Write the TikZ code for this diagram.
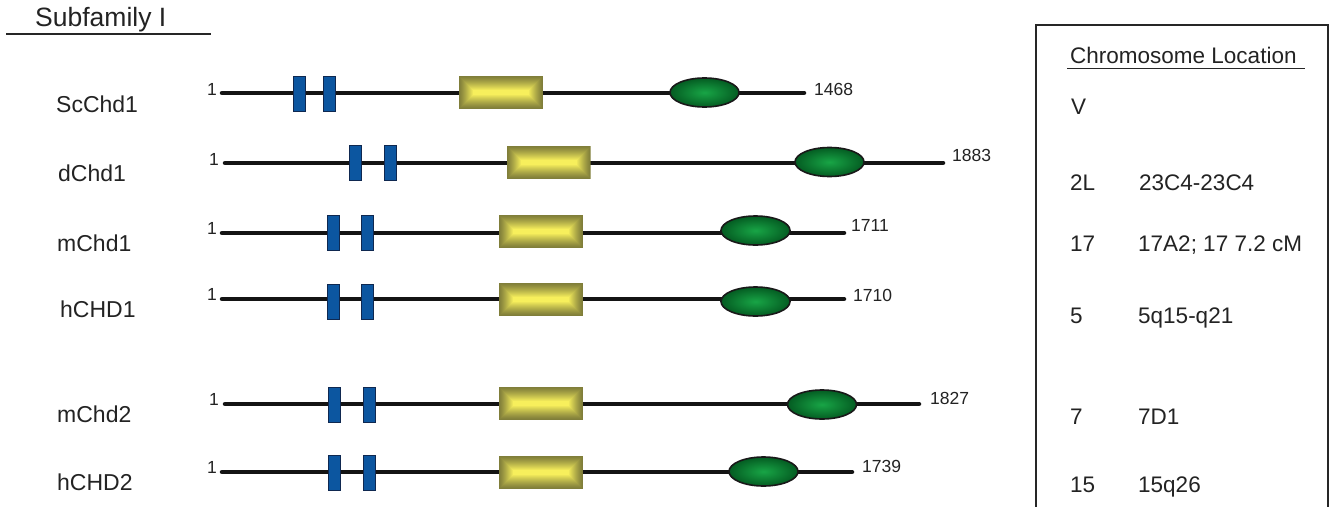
\documentclass[tikz,border=0pt]{standalone}
\usepackage{fontspec}
\setmainfont{Liberation Sans}
\usetikzlibrary{shapes.geometric,calc}
\definecolor{txt}{RGB}{35,35,35}
\definecolor{bluefill}{RGB}{12,86,160}
\definecolor{blueedge}{RGB}{15,40,80}
\definecolor{yedge}{RGB}{128,126,58}
\definecolor{ycen}{RGB}{247,239,92}
\definecolor{gin}{RGB}{24,165,70}
\definecolor{gout}{RGB}{4,92,34}
\tikzset{
  backbone/.style={line width=4.5pt, line cap=round, black!92},
  bluebox/.style={rectangle, draw=blueedge, fill=bluefill, line width=0.8pt,
    minimum width=12pt, minimum height=35pt, inner sep=0pt},
  yelbox/.style={rectangle, minimum width=84pt, minimum height=33pt, inner sep=0pt,
    path picture={
      \foreach \i in {0,...,16}{
        \pgfmathsetmacro\p{100*(min(1,\i/14))^1.2}
        \fill[ycen!\p!yedge]
          ($(path picture bounding box.south west)+(\i pt,\i pt)$) rectangle
          ($(path picture bounding box.north east)-(\i pt,\i pt)$);
      }}},
  grnell/.style={ellipse, draw=black!90, line width=1.6pt, inner color=gin, outer color=gout,
    minimum width=69pt, minimum height=29pt, inner sep=0pt},
  genename/.style={anchor=base west, inner sep=0pt, text=txt, font=\fontsize{23}{26}\selectfont},
  numlab/.style={anchor=base west, inner sep=0pt, text=txt, font=\fontsize{17.5}{20}\selectfont},
  startlab/.style={anchor=base east, inner sep=0pt, text=txt, font=\fontsize{17.5}{20}\selectfont},
  coltext/.style={anchor=base west, inner sep=0pt, text=txt, font=\fontsize{22.5}{26}\selectfont},
}
\begin{document}
\begin{tikzpicture}[x=1pt,y=-1pt]
\useasboundingbox (0,0) rectangle (1335,506);
\fill[white] (0,0) rectangle (1335,506);

% title
\node[anchor=base west, inner sep=0pt, text=txt, font=\fontsize{26.5}{30}\selectfont] (title) at (35,27) {Subfamily I};
\coordinate (tl1) at (6,34);
\coordinate (tl2) at (211,34);
\draw[line width=1.3pt, black!85] (tl1) -- (tl2);

% ScChd1
\coordinate (s1) at (222,93); \coordinate (e1) at (804,93);
\draw[backbone] (s1) -- (e1);
\node[bluebox] (b1a) at (299,93.5) {}; \node[bluebox] (b1b) at (329,93.5) {};
\node[yelbox] (y1) at (501,92.5) {};
\node[grnell] (g1) at (704.5,92.5) {};
\node[startlab] (st1) at (217,95) {1};
\node[numlab] (n1) at (814,95.5) {1468};
\node[genename] (name1) at (56,112) {ScChd1};

% dChd1
\coordinate (s2) at (225,163); \coordinate (e2) at (943,163);
\draw[backbone] (s2) -- (e2);
\node[bluebox] (b2a) at (355.5,162.5) {}; \node[bluebox] (b2b) at (390,162.5) {};
\node[yelbox] (y2) at (548.5,162.5) {};
\node[grnell] (g2) at (829.5,162) {};
\node[startlab] (st2) at (219,165) {1};
\node[numlab] (n2) at (952,161.5) {1883};
\node[genename] (name2) at (58,181) {dChd1};

% mChd1
\coordinate (s3) at (222,233); \coordinate (e3) at (844,233);
\draw[backbone] (s3) -- (e3);
\node[bluebox] (b3a) at (333.5,232.5) {}; \node[bluebox] (b3b) at (367,232.5) {};
\node[yelbox] (y3) at (541,231.5) {};
\node[grnell] (g3) at (755.5,230.5) {};
\node[startlab] (st3) at (217,234) {1};
\node[numlab] (n3) at (851,231.5) {1711};
\node[genename] (name3) at (57,251) {mChd1};

% hCHD1
\coordinate (s4) at (222,299); \coordinate (e4) at (844,299);
\draw[backbone] (s4) -- (e4);
\node[bluebox] (b4a) at (333.5,301.5) {}; \node[bluebox] (b4b) at (367,301.5) {};
\node[yelbox] (y4) at (541,299.5) {};
\node[grnell] (g4) at (755.5,301.5) {};
\node[startlab] (st4) at (217,300) {1};
\node[numlab] (n4) at (853,301.5) {1710};
\node[genename] (name4) at (60,317) {hCHD1};

% mChd2
\coordinate (s5) at (225,404); \coordinate (e5) at (919,404);
\draw[backbone] (s5) -- (e5);
\node[bluebox] (b5a) at (334.5,405) {}; \node[bluebox] (b5b) at (369,404.5) {};
\node[yelbox] (y5) at (541,403.5) {};
\node[grnell] (g5) at (822,404.5) {};
\node[startlab] (st5) at (219,405) {1};
\node[numlab] (n5) at (930,404.5) {1827};
\node[genename] (name5) at (57,422) {mChd2};

% hCHD2
\coordinate (s6) at (222,472); \coordinate (e6) at (852,472);
\draw[backbone] (s6) -- (e6);
\node[bluebox] (b6a) at (334.5,472.5) {}; \node[bluebox] (b6b) at (369,472.5) {};
\node[yelbox] (y6) at (541,472.5) {};
\node[grnell] (g6) at (763.5,471.5) {};
\node[startlab] (st6) at (217,473) {1};
\node[numlab] (n6) at (862,472.5) {1739};
\node[genename] (name6) at (57,490) {hCHD2};

% chromosome box
\draw[line width=1.3pt, black!85] (1036,510) -- (1036,25) -- (1328,25) -- (1328,510);
\node[coltext] (chead) at (1070,63) {Chromosome Location};
\coordinate (cl1) at (1067,68.5);
\coordinate (cl2) at (1305,68.5);
\draw[line width=1.3pt, black!85] (cl1) -- (cl2);

\node[coltext] (c1) at (1071,114) {V};
\node[coltext] (c2) at (1070,190) {2L};
\node[coltext] (c2b) at (1139,190) {23C4-23C4};
\node[coltext] (c3) at (1070,251) {17};
\node[coltext] (c3b) at (1138,251) {17A2; 17 7.2 cM};
\node[coltext] (c4) at (1070,323) {5};
\node[coltext] (c4b) at (1138,323) {5q15-q21};
\node[coltext] (c5) at (1070,424) {7};
\node[coltext] (c5b) at (1138,424) {7D1};
\node[coltext] (c6) at (1070,492) {15};
\node[coltext] (c6b) at (1138,492) {15q26};
\end{tikzpicture}
\end{document}
